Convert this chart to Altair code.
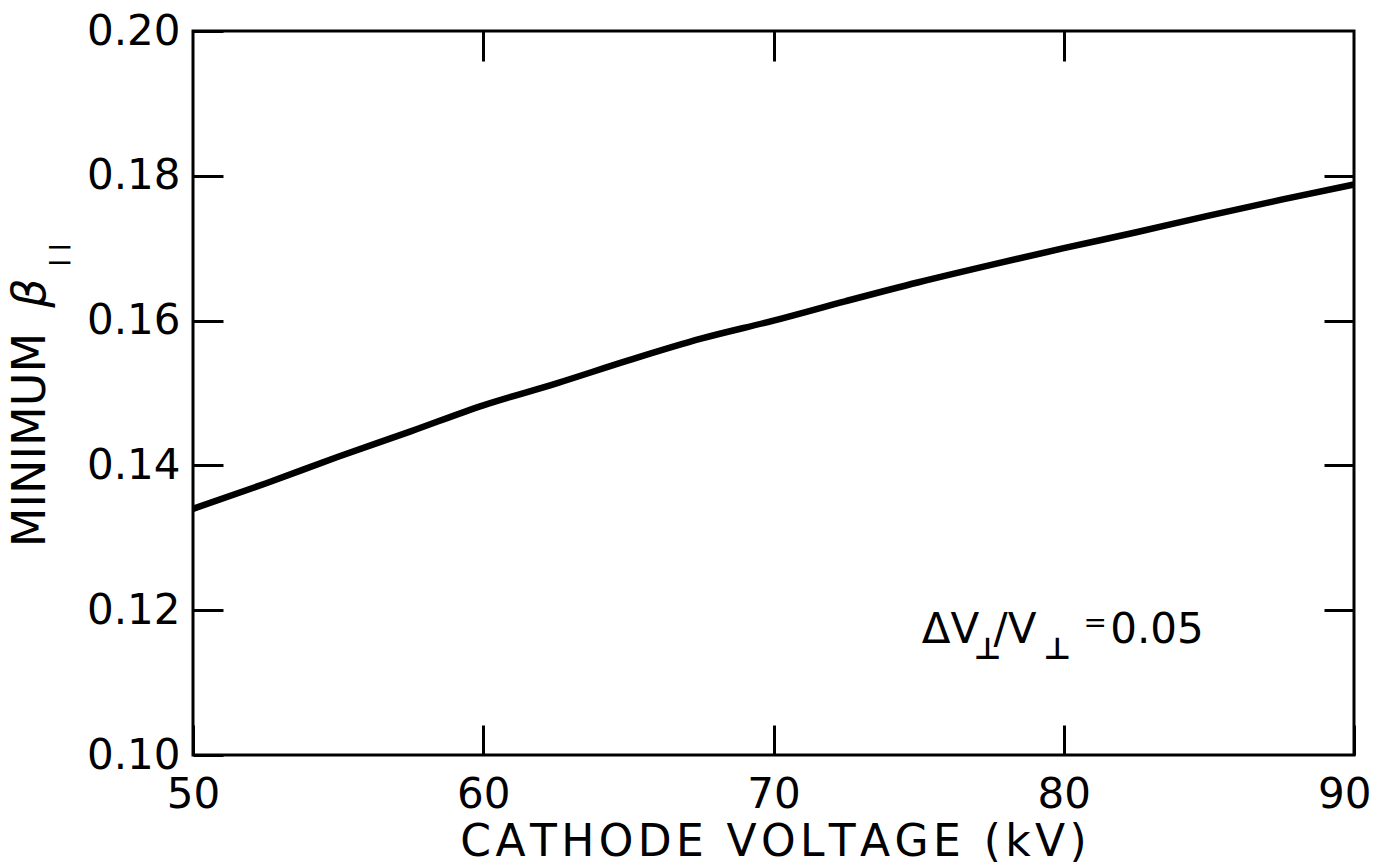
import altair as alt
import pandas as pd

# ---- data ----
voltage_kv = [50, 52.5, 55, 57.5, 60, 62.5, 65, 67.5, 70, 72.5, 75, 77.5, 80, 82.5, 85, 87.5, 90]
min_beta = [0.1340, 0.1375, 0.1412, 0.1447, 0.1483, 0.1513, 0.1545, 0.1575, 0.1600,
            0.1627, 0.1653, 0.1677, 0.1700, 0.1722, 0.1745, 0.1767, 0.1788]

x_label_values = [50, 60, 70, 80]
x_last_label = [90]
y_label_values = [0.10, 0.12, 0.14, 0.16, 0.18, 0.20]
x_tick_values = [60, 70, 80]
y_tick_values = [0.12, 0.14, 0.16, 0.18]

x_title = "CATHODE VOLTAGE (kV)"
y_title_main = "MINIMUM"
y_title_symbol = "β"
y_title_sub = "|\u00a0|"

note_main_text = ["ΔV", "/V", "0.05"]
note_sub_text = ["⊥", "⊥"]
note_eq_text = ["="]

# annotation anchors (data coordinates)
note_main_kv = [75.11, 77.58, 81.6]
note_main_beta = [0.11547, 0.11547, 0.11547]
note_sub_kv = [76.9, 79.3]
note_sub_beta = [0.11330, 0.11330]
note_eq_kv = [80.68]
note_eq_beta = [0.11700]

df = pd.DataFrame({"kv": voltage_kv, "beta": min_beta})

W, H = 1161, 724
TL = 30
FONT = "DejaVu Sans"
HS = "\u200a"

xs = alt.Scale(domain=[50, 90], nice=False)
ys = alt.Scale(domain=[0.10, 0.20], nice=False, zero=False)

common = dict(domain=False, grid=False, tickColor="black", tickWidth=3, tickSize=TL,
              offset=-TL, title=None, labelFont=FONT, labelFontSize=42,
              labelColor="black", labelOverlap=False)

line = alt.Chart(df).mark_line(color="black", strokeWidth=6.5, interpolate="monotone").encode(
    x=alt.X("kv:Q", scale=xs,
            axis=alt.Axis(orient="bottom", values=x_label_values, format="d",
                          labelPadding=19, labelFlush=False, **common)),
    y=alt.Y("beta:Q", scale=ys,
            axis=alt.Axis(orient="left", values=y_label_values, format=".2f",
                          labelPadding=13, labelFlush=False, **common)),
)

inner_ticks = alt.Chart(df).mark_line(opacity=0).encode(
    x=alt.X("kv:Q", scale=xs,
            axis=alt.Axis(orient="top", values=x_tick_values, labels=False, **common)),
    y=alt.Y("beta:Q", scale=ys,
            axis=alt.Axis(orient="right", values=y_tick_values, labels=False, **common)),
)

last_label = alt.Chart(df).mark_line(opacity=0).encode(
    x=alt.X("kv:Q", scale=xs,
            axis=alt.Axis(orient="bottom", values=x_last_label, format="d",
                          labelPadding=19, labelFlush=True, labelFlushOffset=17, **common)),
    y=alt.Y("beta:Q", scale=ys, axis=None),
)


def note_layer(texts, kvs, betas, size, weight="normal"):
    d = pd.DataFrame({"kv": kvs, "beta": betas, "text": texts})
    return alt.Chart(d).mark_text(font=FONT, fontSize=size, fontWeight=weight, color="black",
                                  align="left", baseline="alphabetic").encode(
        x=alt.X("kv:Q", scale=xs, axis=None),
        y=alt.Y("beta:Q", scale=ys, axis=None),
        text="text:N",
    )


note_main = note_layer(note_main_text, note_main_kv, note_main_beta, 42)
note_sub = note_layer(note_sub_text, note_sub_kv, note_sub_beta, 30, "bold")
note_eq = note_layer(note_eq_text, note_eq_kv, note_eq_beta, 28)

one = pd.DataFrame({"a": [0]})

xtitle = alt.Chart(one).mark_text(font=FONT, fontSize=44, color="black",
                                  align="center", baseline="alphabetic").encode(
    x=alt.value(W / 2), y=alt.value(825), text=alt.value(HS.join(x_title)))

ytitle_main = alt.Chart(one).mark_text(font=FONT, fontSize=46, color="black", angle=270,
                                       align="center", baseline="alphabetic").encode(
    x=alt.value(-148), y=alt.value(409), text=alt.value(y_title_main))

ytitle_sym = alt.Chart(one).mark_text(font=FONT, fontSize=46, fontStyle="italic", color="black",
                                      angle=270, align="center", baseline="alphabetic").encode(
    x=alt.value(-148), y=alt.value(262), text=alt.value(y_title_symbol))

ytitle_sub = alt.Chart(one).mark_text(font=FONT, fontSize=22, fontWeight="bold", color="black",
                                      angle=270, align="center", baseline="middle").encode(
    x=alt.value(-135), y=alt.value(224), text=alt.value(y_title_sub))

chart = alt.layer(
    line, inner_ticks, last_label, note_main, note_sub, note_eq,
    xtitle, ytitle_main, ytitle_sym, ytitle_sub,
).resolve_axis(x="independent", y="independent").properties(
    width=W, height=H,
    padding={"left": 185, "top": 23, "right": 20, "bottom": 112},
    autosize=alt.AutoSizeParams(type="none"),
    background="white",
).configure_view(stroke="black", strokeWidth=3)

chart.save("out.html", embed_options={"renderer": "svg", "actions": False})
